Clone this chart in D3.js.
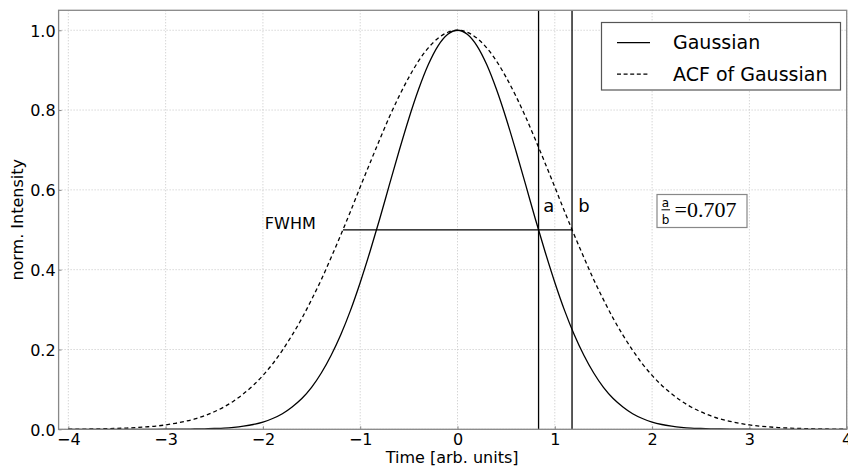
<!DOCTYPE html>
<html><head><meta charset="utf-8">
<script src="https://cdn.jsdelivr.net/npm/d3@7"></script>
<style>body{margin:0;background:#fff}svg{display:block;font-family:"DejaVu Sans",sans-serif}</style>
</head><body><svg id="c" width="848" height="470"></svg>
<script>
const times = [-4.0,-3.9,-3.8,-3.7,-3.6,-3.5,-3.4,-3.3,-3.2,-3.1,-3.0,-2.9,-2.8,-2.7,-2.6,-2.5,-2.4,-2.3,-2.2,-2.1,-2.0,-1.9,-1.8,-1.7,-1.6,-1.5,-1.4,-1.3,-1.2,-1.1,-1.0,-0.9,-0.8,-0.7,-0.6,-0.5,-0.4,-0.3,-0.2,-0.1,0.0,0.1,0.2,0.3,0.4,0.5,0.6,0.7,0.8,0.9,1.0,1.1,1.2,1.3,1.4,1.5,1.6,1.7,1.8,1.9,2.0,2.1,2.2,2.3,2.4,2.5,2.6,2.7,2.8,2.9,3.0,3.1,3.2,3.3,3.4,3.5,3.6,3.7,3.8,3.9,4.0];
const gaussian = [0,0,0,0,0,0,0,0,0,0,0.0001,0.0002,0.0004,0.0007,0.0012,0.002,0.003,0.005,0.008,0.012,0.018,0.027,0.039,0.056,0.077,0.105,0.141,0.185,0.237,0.298,0.368,0.445,0.527,0.613,0.698,0.779,0.852,0.914,0.961,0.990,1.000,0.990,0.961,0.914,0.852,0.779,0.698,0.613,0.527,0.445,0.368,0.298,0.237,0.185,0.141,0.105,0.077,0.056,0.039,0.027,0.018,0.012,0.008,0.005,0.003,0.002,0.0012,0.0007,0.0004,0.0002,0.0001,0,0,0,0,0,0,0,0,0,0];
const acfGaussian = [0.0003,0.0005,0.0007,0.0011,0.0015,0.0022,0.0031,0.0043,0.006,0.008,0.011,0.015,0.020,0.026,0.034,0.044,0.056,0.071,0.089,0.110,0.135,0.164,0.198,0.236,0.278,0.325,0.375,0.430,0.487,0.546,0.607,0.667,0.726,0.783,0.835,0.882,0.923,0.956,0.980,0.995,1.000,0.995,0.980,0.956,0.923,0.882,0.835,0.783,0.726,0.667,0.607,0.546,0.487,0.430,0.375,0.325,0.278,0.236,0.198,0.164,0.135,0.110,0.089,0.071,0.056,0.044,0.034,0.026,0.020,0.015,0.011,0.008,0.006,0.0043,0.0031,0.0022,0.0015,0.0011,0.0007,0.0005,0.0003];
const xTicks = [-4,-3,-2,-1,0,1,2,3,4];
const yTicks = [0.0,0.2,0.4,0.6,0.8,1.0];
const seriesNames = ["Gaussian","ACF of Gaussian"];
const halfMax = 0.5;
const fwhmA = 0.833;   // half-width of Gaussian
const fwhmB = 1.177;   // half-width of ACF
const ratioText = "0.707";

const svg = d3.select("#c");
const L = 58.6, R = 846.7, T = 10.3, B = 429.3;
const x = d3.scaleLinear().domain([-4.1, 4]).range([L, R]);
const y = d3.scaleLinear().domain([0, 1.05]).range([B, T]);

// grid
const g = svg.append("g");
g.selectAll(".gx").data(xTicks).enter().append("line")
  .attr("x1", d => x(d)).attr("x2", d => x(d)).attr("y1", T).attr("y2", B)
  .attr("stroke", "#c4c4c4").attr("stroke-width", 1).attr("stroke-dasharray", "1,2");
g.selectAll(".gy").data(yTicks).enter().append("line")
  .attr("x1", L).attr("x2", R).attr("y1", d => y(d)).attr("y2", d => y(d))
  .attr("stroke", "#c4c4c4").attr("stroke-width", 1).attr("stroke-dasharray", "1,2");

// axes
const xAxis = d3.axisBottom(x).tickValues(xTicks).tickSize(-3).tickPadding(6)
  .tickFormat(d => d < 0 ? "\u2212" + Math.abs(d) : d);
const xa = svg.append("g").attr("transform", `translate(0,${B})`).call(xAxis);
const yAxis = d3.axisLeft(y).tickValues(yTicks).tickSize(-3).tickPadding(3).tickFormat(d3.format(".1f"));
const ya = svg.append("g").attr("transform", `translate(${L},0)`).call(yAxis);
[xa, ya].forEach(a => {
  a.attr("font-family", null).attr("font-size", null);
  a.select(".domain").remove();
  a.selectAll(".tick line").attr("stroke", "#888");
  a.selectAll("text").attr("font-size", 16).attr("fill", "#000").style("font-family", "DejaVu Sans");
});
xa.selectAll("text").attr("dy", "0.6em");
ya.selectAll("text").attr("dy", "0.36em");

// curves
const line = d3.line().x((d, i) => x(times[i])).y(d => y(d)).curve(d3.curveMonotoneX);
svg.append("path").attr("d", line(acfGaussian)).attr("fill", "none")
  .attr("stroke", "#000").attr("stroke-width", 1.3).attr("stroke-dasharray", "4,3");
svg.append("path").attr("d", line(gaussian)).attr("fill", "none")
  .attr("stroke", "#000").attr("stroke-width", 1.3);

// annotation lines
svg.append("line").attr("x1", x(fwhmA)).attr("x2", x(fwhmA)).attr("y1", T).attr("y2", B)
  .attr("stroke", "#000").attr("stroke-width", 1.3);
svg.append("line").attr("x1", x(fwhmB)).attr("x2", x(fwhmB)).attr("y1", T).attr("y2", B)
  .attr("stroke", "#000").attr("stroke-width", 1.3);
svg.append("line").attr("x1", x(-fwhmB)).attr("x2", x(fwhmB)).attr("y1", y(halfMax)).attr("y2", y(halfMax))
  .attr("stroke", "#000").attr("stroke-width", 1.3);

// spines
svg.append("rect").attr("x", L).attr("y", T).attr("width", R - L).attr("height", B - T)
  .attr("fill", "none").attr("stroke", "#888").attr("stroke-width", 1.3);

// text annotations
svg.append("text").attr("x", x(-1.98)).attr("y", y(halfMax) - 0.5).attr("font-size", 16).text("FWHM");
svg.append("text").attr("x", x(0.88)).attr("y", y(0.545)).attr("font-size", 18).text("a");
svg.append("text").attr("x", x(1.24)).attr("y", y(0.545)).attr("font-size", 18).text("b");

// ratio box
const rb = svg.append("g");
rb.append("rect").attr("x", 657).attr("y", 194.5).attr("width", 90).attr("height", 33)
  .attr("fill", "#fff").attr("stroke", "#888").attr("stroke-width", 1.2);
rb.append("text").attr("x", 665.5).attr("y", 207).attr("font-size", 12).attr("text-anchor", "middle").text("a");
rb.append("line").attr("x1", 661.5).attr("x2", 670).attr("y1", 209.8).attr("y2", 209.8).attr("stroke", "#000").attr("stroke-width", 1);
rb.append("text").attr("x", 665.5).attr("y", 223.5).attr("font-size", 12).attr("text-anchor", "middle").text("b");
rb.append("text").attr("x", 674.5).attr("y", 216.5).attr("font-size", 22)
  .style("font-family", "'Liberation Serif', serif").text("=" + ratioText);

// legend
const lg = svg.append("g");
lg.append("rect").attr("x", 601.5).attr("y", 22.5).attr("width", 239).attr("height", 67.5)
  .attr("fill", "#fff").attr("stroke", "#555").attr("stroke-width", 1.2);
seriesNames.forEach((n, i) => {
  const yy = 42.7 + i * 31.5;
  lg.append("line").attr("x1", 617).attr("x2", 650).attr("y1", yy).attr("y2", yy)
    .attr("stroke", "#000").attr("stroke-width", 1.3).attr("stroke-dasharray", i ? "4,2.6" : null);
  lg.append("text").attr("x", 673).attr("y", yy + 6.5).attr("font-size", 19).text(n);
});

// axis labels
svg.append("text").attr("x", (L + R) / 2 - 0.5).attr("y", 463).attr("text-anchor", "middle")
  .attr("font-size", 16).text("Time [arb. units]");
svg.append("text").attr("transform", `translate(23,${(T + B) / 2}) rotate(-90)`).attr("text-anchor", "middle")
  .attr("font-size", 16).text("norm. Intensity");
</script></body></html>
